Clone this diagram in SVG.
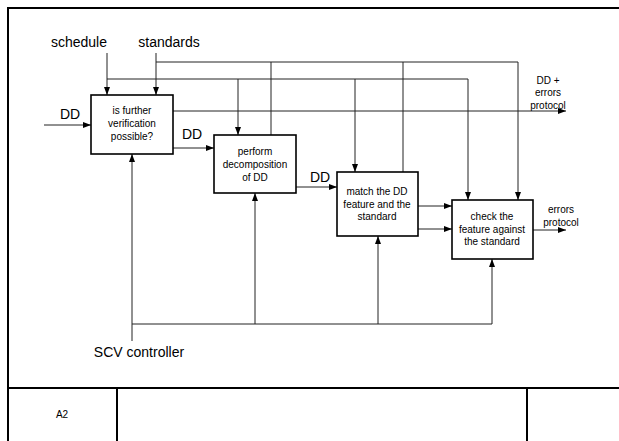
<svg xmlns="http://www.w3.org/2000/svg" width="619" height="441" viewBox="0 0 619 441">
<defs>
<marker id="ah" viewBox="0 0 8 6" refX="8" refY="3" markerWidth="8" markerHeight="6" markerUnits="userSpaceOnUse" orient="auto">
<path d="M0,0 L8,3 L0,6 z" fill="#000"/>
</marker>
<style>
.frame{fill:none;stroke:#000;stroke-width:2}
.box{fill:#fff;stroke:#000;stroke-width:1.6}
.ln{fill:none;stroke:#222;stroke-width:1}
.ar{fill:none;stroke:#222;stroke-width:1;marker-end:url(#ah)}
.bt{font-family:"Liberation Sans",Arial,sans-serif;font-size:10px;fill:#000;text-anchor:middle}
.lb{font-family:"Liberation Sans",Arial,sans-serif;font-size:14px;fill:#000;text-anchor:middle}
.sm{font-family:"Liberation Sans",Arial,sans-serif;font-size:10px;fill:#000;text-anchor:middle}
</style>
</defs>
<rect width="619" height="441" fill="#fff"/>
<g id="frame">
<path class="frame" d="M8,445 L8,8 L625,8"/>
<path class="frame" d="M8,388 L625,388 M117,388 L117,445 M527,388 L527,445"/>
<text class="sm" x="62" y="418">A2</text>
</g>
<g id="connectors">
<!-- schedule -->
<path class="ar" d="M107,53 L107,95"/>
<path class="ln" d="M107,79 L468,79"/>
<path class="ar" d="M238,79 L238,135"/>
<path class="ar" d="M355,79 L355,172"/>
<path class="ar" d="M468,79 L468,200"/>
<!-- standards -->
<path class="ar" d="M156,53 L156,95"/>
<path class="ln" d="M156,62 L518,62"/>
<path class="ln" d="M271,62 L271,135"/>
<path class="ln" d="M403,62 L403,172"/>
<path class="ar" d="M518,62 L518,200"/>
<!-- DD input -->
<path class="ar" d="M44,125 L91,125"/>
<!-- box1 output DD+errors -->
<path class="ar" d="M173,111 L566,111"/>
<!-- box1 -> box2 -->
<path class="ar" d="M173,148 L214,148"/>
<!-- box2 -> box3 -->
<path class="ar" d="M296,187 L337,187"/>
<!-- box3 -> box4 -->
<path class="ar" d="M418,206 L452,206"/>
<path class="ar" d="M418,229 L452,229"/>
<!-- box4 output -->
<path class="ar" d="M533,230 L566,230"/>
<!-- controller -->
<path class="ar" d="M132,341 L132,154"/>
<path class="ln" d="M132,324 L492,324"/>
<path class="ar" d="M255,324 L255,193"/>
<path class="ar" d="M378,324 L378,236"/>
<path class="ar" d="M492,324 L492,259"/>
</g>
<g id="labels">
<text class="lb" x="79" y="47">schedule</text>
<text class="lb" x="169" y="47">standards</text>
<text class="lb" x="70" y="119">DD</text>
<text class="lb" x="192" y="139">DD</text>
<text class="lb" x="320" y="182">DD</text>
<text class="sm" x="548" y="84">DD +</text>
<text class="sm" x="548" y="96">errors</text>
<text class="sm" x="548" y="109">protocol</text>
<text class="sm" x="561" y="213">errors</text>
<text class="sm" x="561" y="226">protocol</text>
<text class="lb" x="139" y="357">SCV controller</text>
</g>
<g id="n1">
<rect class="box" x="91" y="95" width="82" height="59"/>
<text class="bt" x="132" y="114">is further</text>
<text class="bt" x="132" y="127">verification</text>
<text class="bt" x="132" y="140">possible?</text>
</g>
<g id="n2">
<rect class="box" x="214" y="135" width="82" height="58"/>
<text class="bt" x="255" y="155">perform</text>
<text class="bt" x="255" y="168">decomposition</text>
<text class="bt" x="255" y="181">of DD</text>
</g>
<g id="n3">
<rect class="box" x="337" y="172" width="81" height="64"/>
<text class="bt" x="377" y="195">match the DD</text>
<text class="bt" x="377" y="208">feature and the</text>
<text class="bt" x="377" y="220">standard</text>
</g>
<g id="n4">
<rect class="box" x="452" y="200" width="81" height="59"/>
<text class="bt" x="492" y="220">check the</text>
<text class="bt" x="492" y="233">feature against</text>
<text class="bt" x="492" y="245">the standard</text>
</g>
</svg>
